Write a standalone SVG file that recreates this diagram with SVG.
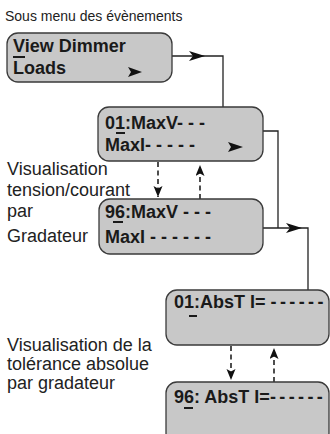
<svg xmlns="http://www.w3.org/2000/svg" width="330" height="434" viewBox="0 0 330 434">
<style>
.box{fill:#c8c8c8;stroke:#3a3a3a;stroke-width:1.3}
.bt{font-family:"Liberation Sans",Arial,sans-serif;font-weight:bold;font-size:18px;fill:#1a1a1a}
.lt{font-family:"Liberation Sans",Arial,sans-serif;font-size:18px;fill:#222}
.tt{font-family:"Liberation Sans",Arial,sans-serif;font-size:14px;fill:#222}
.ul{fill:#1a1a1a}
.tight{letter-spacing:-0.8px}
.con{fill:none;stroke:#222;stroke-width:1.3}
.dash{fill:none;stroke:#222;stroke-width:1.6;stroke-dasharray:5 3.5}
.ah{fill:#111}
</style>
<defs>
<marker id="arr" markerUnits="userSpaceOnUse" markerWidth="18" markerHeight="12" refX="16" refY="5" orient="auto">
<path d="M0,0 L16,5 L0,10 L4,5 z" fill="#111"/>
</marker>
<marker id="darr" markerUnits="userSpaceOnUse" markerWidth="12" markerHeight="10" refX="11" refY="4.5" orient="auto">
<path d="M0,0 L11,4.5 L0,9 L2.5,4.5 z" fill="#111"/>
</marker>
</defs>
<text class="tt" x="5" y="21">Sous menu des évènements</text>
<g id="labels">
<text class="lt" x="7" y="175">Visualisation</text>
<text class="lt" x="7" y="196">tension/courant</text>
<text class="lt" x="7" y="217">par</text>
<text class="lt" x="7" y="242">Gradateur</text>
<text class="lt" x="7" y="351">Visualisation de la</text>
<text class="lt" x="7" y="370">tolérance absolue</text>
<text class="lt" x="7" y="389">par gradateur</text>
</g>
<g id="connectors">
<path class="con" d="M172,56 H205" marker-end="url(#arr)"/>
<path class="con" d="M205,56 H223 V107"/>
<path class="con" d="M263,131 H278 V228"/>
<path class="con" d="M263,228 H302" marker-end="url(#arr)"/>
<path class="con" d="M302,228 H308 V290"/>
<path class="dash" d="M158,162 V197" marker-end="url(#darr)"/>
<path class="dash" d="M200,199 V165" marker-end="url(#darr)"/>
<path class="dash" d="M231,346 V380" marker-end="url(#darr)"/>
<path class="dash" d="M274,382 V348" marker-end="url(#darr)"/>
</g>
<g id="node1">
<rect class="box" x="7" y="33" width="165" height="49" rx="11"/>
<text class="bt" x="13" y="52">View Dimmer</text>
<rect class="ul" x="13" y="56" width="12" height="2"/>
<text class="bt" x="13" y="74">Loads</text>
<path class="ah" d="M128,67 L142,72 L128,77 L131,72 z"/>
</g>
<g id="node2">
<rect class="box" x="98" y="107" width="165" height="54" rx="11"/>
<text class="bt" x="105" y="129">01:MaxV- - -</text>
<rect class="ul" x="116" y="132" width="9" height="2"/>
<text class="bt" x="105" y="151">MaxI- - - - -</text>
<path class="ah" d="M228,142 L243,147 L228,152 L231,147 z"/>
</g>
<g id="node3">
<rect class="box" x="99" y="199" width="164" height="55" rx="11"/>
<text class="bt" x="105" y="218">96:MaxV - - -</text>
<rect class="ul" x="113" y="221" width="10" height="2"/>
<text class="bt" x="105" y="243">MaxI - - - - - -</text>
</g>
<g id="node4">
<rect class="box" x="166" y="290" width="163" height="55" rx="11"/>
<text class="bt" x="174" y="308">01:AbsT I= <tspan class="tight">- - - - - -</tspan></text>
<rect class="ul" x="189" y="315" width="8" height="2"/>
</g>
<g id="node5">
<rect class="box" x="166" y="382" width="163" height="62" rx="11"/>
<text class="bt" x="174" y="403">96: AbsT I=<tspan class="tight">- - - - - -</tspan></text>
<rect class="ul" x="184" y="407" width="9" height="2"/>
</g>
</svg>
